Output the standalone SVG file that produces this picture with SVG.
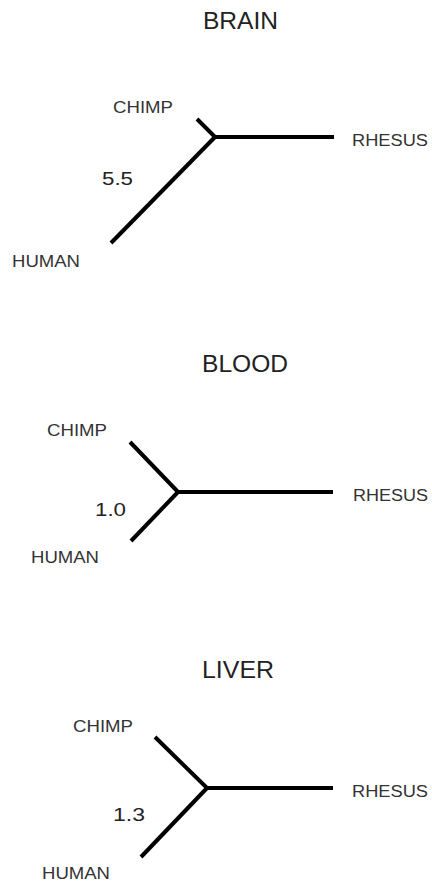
<svg xmlns="http://www.w3.org/2000/svg" width="432" height="882" viewBox="0 0 432 882">
<style>
.title{font-family:"Liberation Sans",Arial,sans-serif;font-size:23px;fill:#222}
.lbl{font-family:"Liberation Sans",Arial,sans-serif;font-size:16px;fill:#333}
.num{font-family:"Liberation Sans",Arial,sans-serif;font-size:19px;fill:#222}
.br{fill:none;stroke:#000;stroke-width:4;stroke-linecap:butt;stroke-linejoin:miter}
</style>
<rect width="432" height="882" fill="#fff"/>
<g id="brain">
  <text class="title" x="203" y="29" textLength="75" lengthAdjust="spacingAndGlyphs">BRAIN</text>
  <g id="connectors-brain">
    <polyline class="br" points="197,119 215,137 334,137"/>
    <line class="br" x1="215" y1="137" x2="111" y2="243"/>
  </g>
  <g id="brain-chimp"><text class="lbl" x="113" y="113" textLength="60" lengthAdjust="spacingAndGlyphs">CHIMP</text></g>
  <g id="brain-rhesus"><text class="lbl" x="352" y="146" textLength="76" lengthAdjust="spacingAndGlyphs">RHESUS</text></g>
  <g id="brain-human"><text class="lbl" x="12" y="267" textLength="68" lengthAdjust="spacingAndGlyphs">HUMAN</text></g>
  <g id="brain-value"><text class="num" x="102" y="185" textLength="31" lengthAdjust="spacingAndGlyphs">5.5</text></g>
</g>
<g id="blood">
  <text class="title" x="202" y="372" textLength="86" lengthAdjust="spacingAndGlyphs">BLOOD</text>
  <g id="connectors-blood">
    <polyline class="br" points="130,442 178,492 333,492"/>
    <line class="br" x1="178" y1="492" x2="131" y2="541"/>
  </g>
  <g id="blood-chimp"><text class="lbl" x="47" y="436" textLength="60" lengthAdjust="spacingAndGlyphs">CHIMP</text></g>
  <g id="blood-rhesus"><text class="lbl" x="353" y="501" textLength="75" lengthAdjust="spacingAndGlyphs">RHESUS</text></g>
  <g id="blood-human"><text class="lbl" x="31" y="563" textLength="68" lengthAdjust="spacingAndGlyphs">HUMAN</text></g>
  <g id="blood-value"><text class="num" x="95" y="516" textLength="31" lengthAdjust="spacingAndGlyphs">1.0</text></g>
</g>
<g id="liver">
  <text class="title" x="202" y="678" textLength="72" lengthAdjust="spacingAndGlyphs">LIVER</text>
  <g id="connectors-liver">
    <polyline class="br" points="155,737 207,788 333,788"/>
    <line class="br" x1="207" y1="788" x2="141" y2="857"/>
  </g>
  <g id="liver-chimp"><text class="lbl" x="73" y="732" textLength="60" lengthAdjust="spacingAndGlyphs">CHIMP</text></g>
  <g id="liver-rhesus"><text class="lbl" x="352" y="797" textLength="76" lengthAdjust="spacingAndGlyphs">RHESUS</text></g>
  <g id="liver-human"><text class="lbl" x="42" y="879" textLength="68" lengthAdjust="spacingAndGlyphs">HUMAN</text></g>
  <g id="liver-value"><text class="num" x="113" y="821" textLength="32" lengthAdjust="spacingAndGlyphs">1.3</text></g>
</g>
</svg>
